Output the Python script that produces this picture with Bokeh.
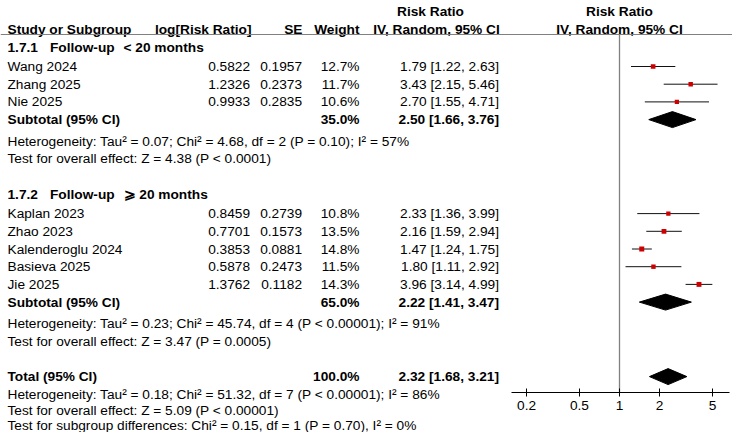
import math
from bokeh.plotting import figure
from bokeh.models import Range1d, FixedTicker, LogAxis, LogScale
from bokeh.embed import file_html
from bokeh.resources import INLINE
from bokeh.core.properties import value

# ---------------- data ----------------
subgroup_ids = ["1.7.1", "1.7.2"]
subgroup_titles = ["Follow-up", "Follow-up"]
subgroup_conds = ["< 20 months", "\u2a7e 20 months"]

g1_studies = ["Wang 2024", "Zhang 2025", "Nie 2025"]
g1_log_rr = [0.5822, 1.2326, 0.9933]
g1_se = [0.1957, 0.2373, 0.2835]
g1_weight = [12.7, 11.7, 10.6]
g1_rr = [1.79, 3.43, 2.70]
g1_lo = [1.22, 2.15, 1.55]
g1_hi = [2.63, 5.46, 4.71]

g2_studies = ["Kaplan 2023", "Zhao 2023", "Kalenderoglu 2024", "Basieva 2025", "Jie 2025"]
g2_log_rr = [0.8459, 0.7701, 0.3853, 0.5878, 1.3762]
g2_se = [0.2739, 0.1573, 0.0881, 0.2473, 0.1182]
g2_weight = [10.8, 13.5, 14.8, 11.5, 14.3]
g2_rr = [2.33, 2.16, 1.47, 1.80, 3.96]
g2_lo = [1.36, 1.59, 1.24, 1.11, 3.14]
g2_hi = [3.99, 2.94, 1.75, 2.92, 4.99]

subtotal_weight = [35.0, 65.0]
subtotal_rr = [2.50, 2.22]
subtotal_lo = [1.66, 1.41]
subtotal_hi = [3.76, 3.47]

total_weight = 100.0
total_rr = 2.32
total_lo = 1.68
total_hi = 3.21

heterogeneity = [
    "Heterogeneity: Tau\u00b2 = 0.07; Chi\u00b2 = 4.68, df = 2 (P = 0.10); I\u00b2 = 57%",
    "Heterogeneity: Tau\u00b2 = 0.23; Chi\u00b2 = 45.74, df = 4 (P < 0.00001); I\u00b2 = 91%",
]
overall_effect = [
    "Test for overall effect: Z = 4.38 (P < 0.0001)",
    "Test for overall effect: Z = 3.47 (P = 0.0005)",
]
total_heterogeneity = "Heterogeneity: Tau\u00b2 = 0.18; Chi\u00b2 = 51.32, df = 7 (P < 0.00001); I\u00b2 = 86%"
total_overall = "Test for overall effect: Z = 5.09 (P < 0.00001)"
subgroup_diff = "Test for subgroup differences: Chi\u00b2 = 0.15, df = 1 (P = 0.70), I\u00b2 = 0%"

axis_ticks = [0.2, 0.5, 1, 2, 5]
axis_tick_labels = ["0.2", "0.5", "1", "2", "5"]
axis_bounds = (0.154, 6.7)

# ---------------- layout ----------------
FONT = "Liberation Sans"
FS = "13.7px"
W, H = 732, 432
X_ONE, PPD = 619.0, 133.0
HDR1_Y, HDR2_Y, LINE_Y, AXIS_Y = 11, 29, 34, 392
NAME_X, FOLLOW_X, COND_X = 7, 49.5, 123
LOGRR_X, SE_X, WEIGHT_X, CI_X = 249.5, 301.5, 359, 498.5
GRAY = "#808080"
RED = "#cc0000"
PITCH = 17.7

groups = [
    (g1_studies, g1_log_rr, g1_se, g1_weight, g1_rr, g1_lo, g1_hi),
    (g2_studies, g2_log_rr, g2_se, g2_weight, g2_rr, g2_lo, g2_hi),
]
y = 47.0
group_y = []
for gi, g in enumerate(groups):
    hy = y
    sy = []
    for k in range(len(g[0])):
        y += 19 if k == 0 else PITCH
        sy.append(y)
    y += PITCH
    suby = y
    y += 21.5
    hety = y
    y += 17.5
    testy = y
    group_y.append((hy, sy, suby, hety, testy))
    if gi == 0:
        y += 36
total_y = y + 35.5
total_het_y = total_y + 18.2
total_test_y = total_het_y + 15.3
diff_y = total_test_y + 15

# ---------------- figure ----------------
p = figure(width=W, height=H,
           x_range=Range1d(0, W), y_range=Range1d(H, 0),
           x_axis_location=None, y_axis_location=None,
           toolbar_location=None, output_backend="svg", min_border=0,
           outline_line_color=None)
p.grid.visible = False
p.extra_x_ranges = {"rr": Range1d(10 ** ((0 - X_ONE) / PPD), 10 ** ((W - X_ONE) / PPD))}
p.extra_x_scales = {"rr": LogScale()}


def txt(x, yy, s, align="left", bold=False, rng="default"):
    p.text(x=[x], y=[yy], text=[s], text_font=value(FONT), text_font_size=FS,
           text_font_style="bold" if bold else "normal", text_align=align,
           text_baseline="middle", text_color="black", x_range_name=rng)


# headers
txt(430, HDR1_Y, "Risk Ratio", "center", True)
txt(NAME_X, HDR2_Y, "Study or Subgroup", "left", True)
txt(251, HDR2_Y, "log[Risk Ratio]", "right", True)
txt(302, HDR2_Y, "SE", "right", True)
txt(359, HDR2_Y, "Weight", "right", True)
txt(436, HDR2_Y, "IV, Random, 95% CI", "center", True)
txt(1, HDR1_Y, "Risk Ratio", "center", True, "rr")
txt(1, HDR2_Y, "IV, Random, 95% CI", "center", True, "rr")
p.segment(x0=[0], y0=[LINE_Y], x1=[W], y1=[LINE_Y], line_color=GRAY, line_width=1)
p.segment(x0=[1], y0=[LINE_Y], x1=[1], y1=[AXIS_Y], line_color=GRAY, line_width=1.3,
          x_range_name="rr")

for gi, g in enumerate(groups):
    studies, lrr, se, w, rr, lo, hi = g
    hy, sy, suby, hety, testy = group_y[gi]
    txt(NAME_X, hy, subgroup_ids[gi], "left", True)
    txt(FOLLOW_X, hy, subgroup_titles[gi], "left", True)
    txt(COND_X, hy, subgroup_conds[gi], "left", True)
    for i, s in enumerate(studies):
        txt(NAME_X, sy[i], s)
        txt(LOGRR_X, sy[i], f"{lrr[i]:.4f}", "right")
        txt(SE_X, sy[i], f"{se[i]:.4f}", "right")
        txt(WEIGHT_X, sy[i], f"{w[i]:.1f}%", "right")
        txt(CI_X, sy[i], f"{rr[i]:.2f} [{lo[i]:.2f}, {hi[i]:.2f}]", "right")
    txt(NAME_X, suby, "Subtotal (95% CI)", "left", True)
    txt(WEIGHT_X, suby, f"{subtotal_weight[gi]:.1f}%", "right", True)
    txt(CI_X, suby, f"{subtotal_rr[gi]:.2f} [{subtotal_lo[gi]:.2f}, {subtotal_hi[gi]:.2f}]", "right", True)
    txt(NAME_X, hety, heterogeneity[gi])
    txt(NAME_X, testy, overall_effect[gi])

    # forest marks
    p.segment(x0=lo, y0=sy, x1=hi, y1=sy, line_color="#111111", line_width=1, x_range_name="rr")
    p.scatter(x=rr, y=sy, marker="square", size=[1.3 * math.sqrt(v) for v in w],
              fill_color=RED, line_color=None, x_range_name="rr")
    p.patch(x=[subtotal_lo[gi], subtotal_rr[gi], subtotal_hi[gi], subtotal_rr[gi]],
            y=[suby, suby - 8, suby, suby + 8], fill_color="black", line_color="black",
            x_range_name="rr")

txt(NAME_X, total_y, "Total (95% CI)", "left", True)
txt(WEIGHT_X, total_y, f"{total_weight:.1f}%", "right", True)
txt(CI_X, total_y, f"{total_rr:.2f} [{total_lo:.2f}, {total_hi:.2f}]", "right", True)
txt(NAME_X, total_het_y, total_heterogeneity)
txt(NAME_X, total_test_y, total_overall)
txt(NAME_X, diff_y, subgroup_diff)
p.patch(x=[total_lo, total_rr, total_hi, total_rr],
        y=[total_y, total_y - 8, total_y, total_y + 8], fill_color="black", line_color="black",
        x_range_name="rr")

# log axis drawn at a fixed location inside the plot
ax = LogAxis(x_range_name="rr", fixed_location=AXIS_Y,
             ticker=FixedTicker(ticks=axis_ticks, minor_ticks=[]),
             major_label_overrides={t: l for t, l in zip(axis_ticks, axis_tick_labels)},
             bounds=axis_bounds)
ax.axis_line_color = "black"
ax.axis_line_width = 1
ax.major_tick_in = 4
ax.major_tick_out = 4
ax.major_tick_line_color = "black"
ax.minor_tick_line_color = None
ax.major_label_text_font = FONT
ax.major_label_text_font_size = FS
ax.major_label_text_color = "black"
ax.major_label_standoff = 4
p.add_layout(ax, "below")

open("out.html", "w").write(file_html(p, INLINE))
